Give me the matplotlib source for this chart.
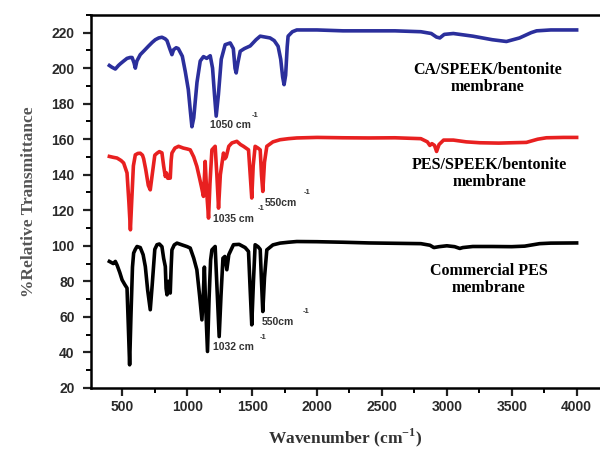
import numpy as np
import matplotlib
matplotlib.use("Agg")
import matplotlib.pyplot as plt
from matplotlib.ticker import MultipleLocator

# -----------------------------------------------------------------------------
# Datos leidos del espectro FTIR (numero de onda en cm-1, % transmitancia)
# -----------------------------------------------------------------------------
ca_x = [400, 420, 446, 470, 485, 510, 536, 560, 575, 590, 600, 612, 638, 670,
        700, 730, 754, 780, 805, 830, 844, 865, 882, 895, 915, 931, 962, 985,
        1008, 1025, 1036, 1050, 1075, 1100, 1125, 1150, 1177, 1195, 1210, 1223,
        1240, 1262, 1292, 1331, 1355, 1368, 1377, 1390, 1408, 1440, 1485, 1530,
        1562, 1600, 1638, 1670, 1700, 1720, 1735, 1746, 1758, 1770, 1777, 1810,
        1844, 1900, 2000, 2200, 2400, 2600, 2800, 2880, 2920, 2946, 2980, 3050,
        3200, 3350, 3459, 3560, 3650, 3692, 3800, 4000]
ca_y = [201.5, 200.5, 199.5, 201.5, 202.5, 204, 205.5, 206, 206, 203, 200, 204,
        207.6, 210, 212.3, 214.5, 216, 217, 217.4, 216.5, 215.5, 211, 207.6,
        210.4, 211.5, 211, 206.7, 198, 188, 175, 167, 172, 192, 204, 206.5,
        205.5, 207, 200, 185, 173, 185, 205, 213.2, 214.2, 211, 200, 197.3, 203,
        209.5, 211, 212.5, 216, 218, 217.5, 217, 215.5, 212.3, 205, 195, 190.7,
        196, 212, 218, 220.5, 221.5, 221.5, 221.5, 221, 221, 221, 220.5, 219.5,
        217.5, 217, 219, 219.5, 218, 216, 215, 217, 220, 221, 221.5, 221.5]

pes_sb_x = [400, 430, 459, 490, 510, 536, 550, 562, 572, 585, 600, 620, 638, 655,
            664, 680, 700, 715, 730, 750, 767, 785, 805, 818, 831, 840, 850, 869,
            876, 882, 905, 933, 970, 1000, 1023, 1050, 1074, 1095, 1110, 1125,
            1132, 1138, 1150, 1164, 1175, 1190, 1215, 1228, 1241, 1255, 1279,
            1290, 1300, 1320, 1344, 1382, 1410, 1433, 1472, 1485, 1497, 1508,
            1523, 1545, 1562, 1572, 1582, 1595, 1613, 1660, 1715, 1780, 1844,
            2000, 2200, 2400, 2600, 2800, 2850, 2869, 2885, 2905, 2921, 2940,
            2975, 3050, 3150, 3254, 3400, 3500, 3613, 3700, 3767, 3900, 4000]
pes_sb_y = [150.3, 149.8, 149.4, 148, 146.6, 141, 125, 109, 125, 145, 151.2, 152,
            152.1, 151, 149, 143, 134, 131.5, 140, 151, 152.1, 153, 152.3, 145,
            139, 141, 138, 138.1, 148, 152.2, 155, 156, 155, 154.5, 154, 150,
            144.7, 138, 133, 127.8, 138, 147.5, 130, 115.6, 135, 154, 156, 140,
            121.2, 140, 152.2, 149, 150, 156, 157.9, 158.8, 157, 156, 154, 140,
            126.9, 145, 156, 155, 154, 140, 130.6, 147, 156, 158.5, 159.7, 160.3,
            160.7, 161, 160.8, 160.7, 160.8, 160.3, 158.5, 156.5, 157.5, 156.5,
            153.1, 157, 159.5, 159.5, 158.5, 158, 157.8, 158, 158.2, 160, 160.8,
            161, 161]

pes_x = [400, 430, 446, 460, 480, 498, 520, 536, 546, 556, 566, 578, 587, 600,
         613, 638, 660, 677, 695, 715, 730, 750, 767, 785, 805, 818, 831, 837,
         844, 855, 862, 869, 876, 882, 900, 921, 960, 1000, 1023, 1050, 1074,
         1095, 1113, 1125, 1132, 1140, 1156, 1168, 1180, 1190, 1215, 1230, 1246,
         1260, 1275, 1290, 1305, 1320, 1356, 1400, 1446, 1472, 1485, 1497, 1510,
         1523, 1545, 1562, 1572, 1582, 1595, 1613, 1660, 1715, 1780, 1844, 2000,
         2200, 2400, 2600, 2800, 2870, 2900, 2940, 3000, 3060, 3100, 3123, 3200,
         3350, 3500, 3600, 3715, 3800, 4000]
pes_y = [91.2, 90, 91.2, 89, 85, 80.8, 78, 76.2, 55, 33, 60, 88, 95.9, 98, 99.6,
         99, 95, 88.3, 75, 64, 78, 98, 100.6, 101, 99.5, 93, 88.3, 76, 72.4, 80,
         75, 73.4, 88, 97.7, 100.5, 101.5, 100.5, 99.5, 98.7, 93, 86.5, 72, 58.3,
         75, 88, 70, 40.5, 70, 92, 97.7, 99.6, 75, 48.9, 72, 93, 94, 86.5, 95,
         100.6, 100.8, 99, 96.8, 75, 55.5, 80, 100.6, 99.5, 98, 80, 63, 82, 97.7,
         100.5, 101.5, 102, 102.4, 102.3, 102, 101.6, 101.4, 101.2, 100.3, 99,
         99.5, 100, 99.5, 98.5, 99, 99.6, 99.6, 99.5, 99.8, 101.2, 101.5, 101.6]

series_names = ["CA/SPEEK/bentonite\nmembrane",
                "PES/SPEEK/bentonite\nmembrane",
                "Commercial PES\nmembrane"]
series_colors = ["#2b2f9c", "#e82020", "#000000"]

# -----------------------------------------------------------------------------
# Grafica
# -----------------------------------------------------------------------------
fig = plt.figure(figsize=(6, 4.5), dpi=100)
ax = fig.add_axes([0.152, 0.138, 0.848, 0.829])

for xs, ys, col in zip([ca_x, pes_sb_x, pes_x], [ca_y, pes_sb_y, pes_y],
                       series_colors):
    ax.plot(xs, ys, color=col, lw=2.6, solid_joinstyle="round")

ax.set_xlim(260, 4180)
ax.set_ylim(20, 230)
ax.xaxis.set_minor_locator(MultipleLocator(250))
ax.yaxis.set_minor_locator(MultipleLocator(10))
ax.set_xticks(np.arange(500, 4001, 500))
ax.set_yticks(np.arange(20, 221, 20))

ax.spines["right"].set_visible(False)
for s in ["left", "bottom", "top"]:
    ax.spines[s].set_linewidth(1.8)

ax.tick_params(which="major", direction="out", length=6, width=1.6,
               labelsize=10, colors="#222222")
ax.tick_params(axis="y", which="major", pad=6)
ax.tick_params(axis="x", which="major", pad=3)
ax.tick_params(which="minor", direction="out", length=3.5, width=1.4)
for lab in ax.get_xticklabels() + ax.get_yticklabels():
    lab.set_fontfamily("Liberation Sans")
    lab.set_fontweight("bold")
    lab.set_color("#2a2a2a")

ax.set_xlabel("Wavenumber (cm$^{\\mathregular{-1}}$)", fontfamily="Liberation Serif",
              fontweight="bold", fontsize=12.5, color="#333333", labelpad=9)
ax.set_ylabel("%Relative Transmittance", fontfamily="Liberation Serif",
              fontweight="bold", fontsize=12.5, color="#555555", labelpad=10)

# Etiquetas de cada membrana
ax.text(3315, 194, series_names[0], ha="center", va="center", fontsize=11.5,
        fontfamily="Liberation Serif", fontweight="bold", linespacing=1.1)
ax.text(3330, 140.5, series_names[1], ha="center", va="center", fontsize=11.5,
        fontfamily="Liberation Serif", fontweight="bold", linespacing=1.1)
ax.text(3320, 81, series_names[2], ha="center", va="center", fontsize=11.5,
        fontfamily="Liberation Serif", fontweight="bold", linespacing=1.1)

# Anotaciones de picos
picos = [(1177, 168.2, "1050 cm", 1500, 173.2),
         (1200, 115.2, "1035 cm", 1546, 120.8),
         (1600, 124.2, "550cm", 1900, 130),
         (1200, 43.1, "1032 cm", 1561, 48.2),
         (1577, 57.2, "550cm", 1892, 62.8)]
for tx, ty, txt, sx, sy in picos:
    ax.text(tx, ty, txt, ha="left", va="center", fontsize=7.5,
            fontfamily="Liberation Sans", fontweight="bold", color="#333333")
    ax.text(sx, sy, "-1", ha="left", va="center", fontsize=5.5,
            fontfamily="Liberation Sans", fontweight="bold", color="#333333")

fig.savefig("out.png", dpi=100)
